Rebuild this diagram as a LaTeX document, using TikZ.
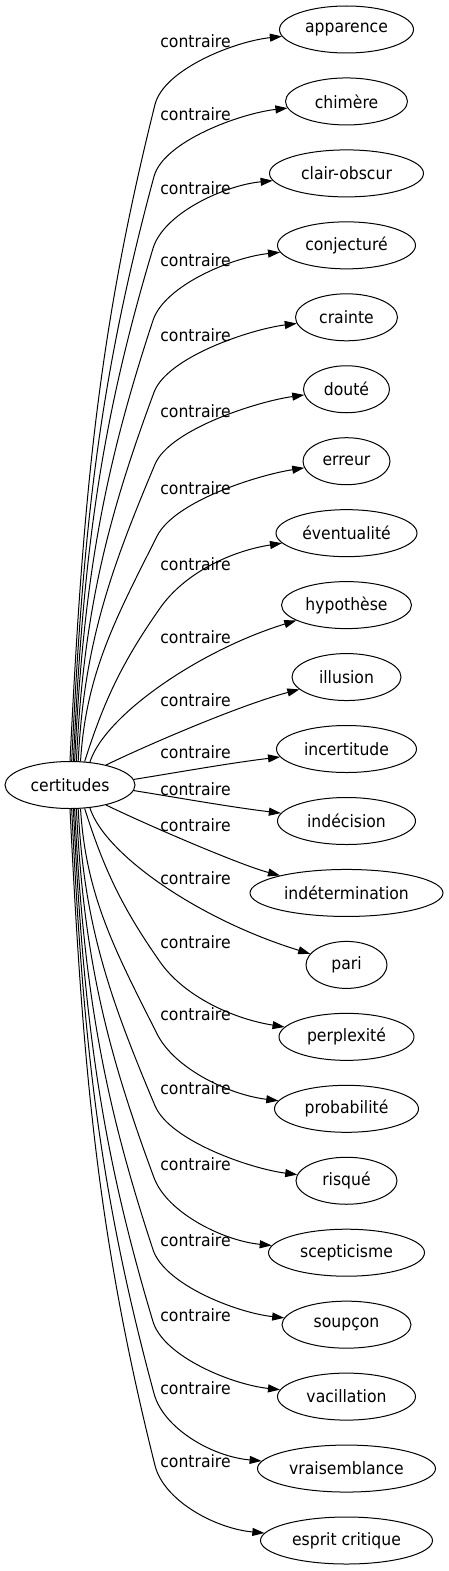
\documentclass[tikz,border=0pt]{standalone}
\usepackage{fontspec}
\setmainfont{DejaVu Sans}[FakeStretch=0.92]
\usetikzlibrary{arrows.meta,shapes.geometric,calc}
\newcommand\fanfs{\fontsize{17pt}{20pt}\selectfont}
\newcommand\fanangle[2]{%
  \pgfmathsetmacro\fanDX{#1-70}%
  \pgfmathsetmacro\fanDY{23.5*sqrt(max(0,1-(\fanDX/65)^2))}%
  \pgfmathsetmacro\fanTh{(#2)*atan2(\fanDY,\fanDX)}%
}
% #1 target, #2 sign, #3 start x, #4 P1 dx, #5 W x, #6 W dist, #7 tangent, #8 end dy
\newcommand\fanedge[8]{%
  \fanangle{#3}{#2}%
  \pgfmathsetmacro\fanL{#6-23}%
  \pgfmathsetmacro\fanAx{#3+#4}%
  \pgfmathsetmacro\fanAy{785-(#2)*(23+0.4*\fanL)}%
  \pgfmathsetmacro\fanBx{#5-#7*0.35*\fanL}%
  \pgfmathsetmacro\fanBy{785-(#2)*(#6-0.35*\fanL)}%
  \pgfmathsetmacro\fanWy{785-(#2)*#6}%
  \pgfmathsetmacro\fanCx{#5+#7*35}%
  \pgfmathsetmacro\fanCy{785-(#2)*(#6+35)}%
  \pgfmathsetmacro\fanEy{(#2)*#8}%
  \draw[conn] (c.\fanTh) .. controls (\fanAx,\fanAy) and (\fanBx,\fanBy) .. (#5,\fanWy) .. controls (\fanCx,\fanCy) and ($(#1.west)+(-45,\fanEy)$) .. (#1);%
}
% #1 target, #2 sign, #3 start x, #4 P1 x, #5 P1 dist, #6 P2 x, #7 P2 dist
\newcommand\fanone[7]{%
  \fanangle{#3}{#2}%
  \pgfmathsetmacro\fanAy{785-(#2)*#5}%
  \pgfmathsetmacro\fanBy{785-(#2)*#7}%
  \draw[conn] (c.\fanTh) .. controls (#4,\fanAy) and (#6,\fanBy) .. (#1);%
}
\begin{document}
\begin{tikzpicture}[x=1pt,y=-1pt,
  tnode/.style={draw, ellipse, inner sep=0pt, minimum height=47pt, line width=1pt, font=\fanfs},
  lab/.style={inner sep=0pt, anchor=base, font=\fanfs},
  conn/.style={-{Triangle[length=12pt,width=8pt]}, line width=1pt}]
\useasboundingbox (0,0) rectangle (449,1571);
\node[tnode, minimum width=130pt] (c) at (70,785) {certitudes};
\node[tnode, minimum width=134pt] (t0) at (346.5,29.5) {apparence};
\node[tnode, minimum width=122pt] (t1) at (346.5,101.45) {chimère};
\node[tnode, minimum width=154pt] (t2) at (346.5,173.4) {clair-obscur};
\node[tnode, minimum width=138pt] (t3) at (346.5,245.35) {conjecturé};
\node[tnode, minimum width=102pt] (t4) at (346.5,317.3) {crainte};
\node[tnode, minimum width=86pt] (t5) at (346.5,389.25) {douté};
\node[tnode, minimum width=87pt] (t6) at (346.5,461.2) {erreur};
\node[tnode, minimum width=141pt] (t7) at (346.5,533.15) {éventualité};
\node[tnode, minimum width=130pt] (t8) at (346.5,605.1) {hypothèse};
\node[tnode, minimum width=109pt] (t9) at (346.5,677.05) {illusion};
\node[tnode, minimum width=140pt] (t10) at (346.5,749) {incertitude};
\node[tnode, minimum width=138pt] (t11) at (346.5,821) {indécision};
\node[tnode, minimum width=193pt] (t12) at (346.5,892.95) {indétermination};
\node[tnode, minimum width=81pt] (t13) at (346.5,964.9) {pari};
\node[tnode, minimum width=135pt] (t14) at (346.5,1036.85) {perplexité};
\node[tnode, minimum width=144pt] (t15) at (346.5,1108.8) {probabilité};
\node[tnode, minimum width=101pt] (t16) at (346.5,1180.75) {risqué};
\node[tnode, minimum width=156pt] (t17) at (346.5,1252.7) {scepticisme};
\node[tnode, minimum width=129pt] (t18) at (346.5,1324.65) {soupçon};
\node[tnode, minimum width=138pt] (t19) at (346.5,1396.6) {vacillation};
\node[tnode, minimum width=178pt] (t20) at (346.5,1468.55) {vraisemblance};
\node[tnode, minimum width=172pt] (t21) at (346.5,1540.5) {esprit critique};
% labels
\node[lab] (l0) at (195.5,47.3) {contraire};
\node[lab] (l1) at (195.5,120.7) {contraire};
\node[lab] (l2) at (195.5,194) {contraire};
\node[lab] (l3) at (195.5,266.7) {contraire};
\node[lab] (l4) at (195.5,341.7) {contraire};
\node[lab] (l5) at (195.5,417.3) {contraire};
\node[lab] (l6) at (195.5,494.3) {contraire};
\node[lab] (l7) at (195.5,570) {contraire};
\node[lab] (l8) at (195.5,643.3) {contraire};
\node[lab] (l9) at (195.5,706.7) {contraire};
\node[lab] (l10) at (195.5,758.3) {contraire};
\node[lab] (l11) at (195.5,795.7) {contraire};
\node[lab] (l12) at (195.5,831.7) {contraire};
\node[lab] (l13) at (195.5,884.3) {contraire};
\node[lab] (l14) at (195.5,948.3) {contraire};
\node[lab] (l15) at (195.5,1020) {contraire};
\node[lab] (l16) at (195.5,1094.3) {contraire};
\node[lab] (l17) at (195.5,1170.7) {contraire};
\node[lab] (l18) at (195.5,1246.7) {contraire};
\node[lab] (l19) at (195.5,1321.7) {contraire};
\node[lab] (l20) at (195.5,1394.3) {contraire};
\node[lab] (l21) at (195.5,1467.7) {contraire};
% upper edges
\fanedge{t0}{1}{70}{13}{155}{680.5}{0.25}{12}
\fanedge{t1}{1}{71.5}{11.7}{154}{608.55}{0.27}{12}
\fanedge{t2}{1}{73}{10.3}{153}{536.6}{0.3}{12}
\fanedge{t3}{1}{74.5}{8.8}{153}{464.65}{0.33}{12}
\fanedge{t4}{1}{76}{7.4}{154}{392.7}{0.37}{12}
\fanedge{t5}{1}{78}{6}{155}{320.75}{0.42}{12}
\fanedge{t6}{1}{80}{6}{157}{248.8}{0.5}{14}
\fanedge{t7}{1}{84}{20}{160}{176.85}{0.7}{18}
\fanone{t8}{1}{89}{105}{70}{200}{135}
\fanone{t9}{1}{105}{145}{39}{240}{80}
\fanone{t10}{1}{133}{180}{13}{230}{22}
% lower edges
\fanedge{t21}{-1}{70}{13}{155}{680.5}{0.25}{12}
\fanedge{t20}{-1}{71.5}{11.7}{154}{608.55}{0.27}{12}
\fanedge{t19}{-1}{73}{10.3}{153}{536.6}{0.3}{12}
\fanedge{t18}{-1}{74.5}{8.8}{153}{464.65}{0.33}{12}
\fanedge{t17}{-1}{76}{7.4}{154}{392.7}{0.37}{12}
\fanedge{t16}{-1}{78}{6}{155}{320.75}{0.42}{12}
\fanedge{t15}{-1}{80}{6}{157}{248.8}{0.5}{14}
\fanedge{t14}{-1}{84}{20}{160}{176.85}{0.7}{18}
\fanone{t13}{-1}{89}{105}{70}{200}{135}
\fanone{t12}{-1}{105}{145}{39}{240}{80}
\fanone{t11}{-1}{133}{180}{13}{230}{22}
\end{tikzpicture}
\end{document}
